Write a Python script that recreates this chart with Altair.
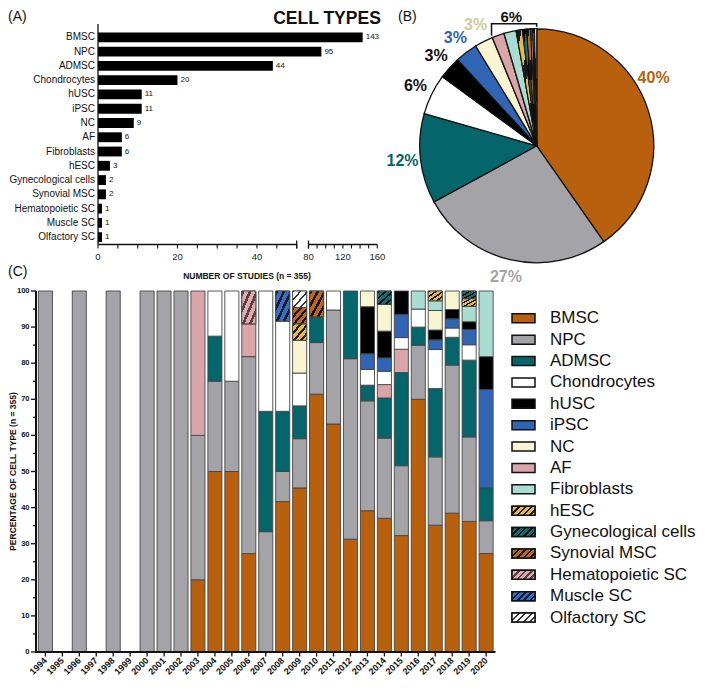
import math
import altair as alt
import pandas as pd

F = "Liberation Sans, Arial, Helvetica, sans-serif"

# ---------------- data ----------------
cell_types = ["BMSC", "NPC", "ADMSC", "Chondrocytes", "hUSC", "iPSC", "NC", "AF",
              "Fibroblasts", "hESC", "Gynecological cells", "Synovial MSC",
              "Hematopoietic SC", "Muscle SC", "Olfactory SC"]
study_counts = [143, 95, 44, 20, 11, 11, 9, 6, 6, 3, 2, 2, 1, 1, 1]

years = ["1994", "1995", "1996", "1997", "1998", "1999", "2000", "2001", "2002",
         "2003", "2004", "2005", "2006", "2007", "2008", "2009", "2010", "2011",
         "2012", "2013", "2014", "2015", "2016", "2017", "2018", "2019", "2020"]

bmsc_by_year = [0, 0, 0, 0, 0, 0, 0, 0, 0, 1, 4, 2, 3, 0, 5, 10, 10, 12, 5, 9, 10, 10, 14, 13, 15, 17, 3]
npc_by_year = [1, 0, 1, 0, 1, 0, 1, 1, 1, 2, 2, 1, 6, 1, 1, 3, 2, 6, 8, 7, 6, 6, 3, 7, 16, 11, 1]
admsc_by_year = [0, 0, 0, 0, 0, 0, 0, 0, 0, 0, 1, 0, 0, 1, 2, 2, 1, 0, 3, 1, 3, 8, 1, 7, 3, 10, 1]
chondro_by_year = [0, 0, 0, 0, 0, 0, 0, 0, 0, 0, 1, 1, 0, 1, 3, 2, 0, 1, 0, 1, 1, 1, 1, 4, 1, 2, 0]
husc_by_year = [0, 0, 0, 0, 0, 0, 0, 0, 0, 0, 0, 0, 0, 0, 0, 0, 0, 0, 0, 3, 2, 2, 0, 1, 1, 1, 1]
ipsc_by_year = [0, 0, 0, 0, 0, 0, 0, 0, 0, 0, 0, 0, 0, 0, 0, 0, 0, 0, 0, 1, 1, 2, 0, 1, 1, 2, 3]
nc_by_year = [0, 0, 0, 0, 0, 0, 0, 0, 0, 0, 0, 0, 0, 0, 0, 2, 0, 0, 0, 1, 2, 0, 0, 2, 2, 0, 0]
af_by_year = [0, 0, 0, 0, 0, 0, 0, 0, 0, 2, 0, 0, 1, 0, 0, 0, 0, 0, 0, 0, 1, 2, 0, 0, 0, 0, 0]
fibro_by_year = [0, 0, 0, 0, 0, 0, 0, 0, 0, 0, 0, 0, 0, 0, 0, 0, 0, 0, 0, 0, 0, 0, 1, 1, 0, 2, 2]
hesc_by_year = [0, 0, 0, 0, 0, 0, 0, 0, 0, 0, 0, 0, 0, 0, 0, 1, 0, 0, 0, 0, 0, 0, 0, 1, 0, 1, 0]
gyn_by_year = [0, 0, 0, 0, 0, 0, 0, 0, 0, 0, 0, 0, 0, 0, 0, 0, 0, 0, 0, 0, 1, 0, 0, 0, 0, 1, 0]
synovial_by_year = [0, 0, 0, 0, 0, 0, 0, 0, 0, 0, 0, 0, 0, 0, 0, 1, 1, 0, 0, 0, 0, 0, 0, 0, 0, 0, 0]
hemato_by_year = [0, 0, 0, 0, 0, 0, 0, 0, 0, 0, 0, 0, 1, 0, 0, 0, 0, 0, 0, 0, 0, 0, 0, 0, 0, 0, 0]
muscle_by_year = [0, 0, 0, 0, 0, 0, 0, 0, 0, 0, 0, 0, 0, 0, 1, 0, 0, 0, 0, 0, 0, 0, 0, 0, 0, 0, 0]
olfactory_by_year = [0, 0, 0, 0, 0, 0, 0, 0, 0, 0, 0, 0, 0, 0, 0, 1, 0, 0, 0, 0, 0, 0, 0, 0, 0, 0, 0]

# tick values / labels
a_tick_labels = [0, 20, 40, 80, 120, 160]
a_ticks = [0, 5, 10, 15, 20, 25, 30, 35, 40, 45, 50, 80, 90, 100, 110, 120, 130, 140, 150, 160]
a_break_lo = [0, 80]
a_break_hi = [50, 160]
c_tick_labels = [0, 10, 20, 30, 40, 50, 60, 70, 80, 90, 100]
c_minor_ticks = [5, 15, 25, 35, 45, 55, 65, 75, 85, 95]

# stacking order of panel C (bottom -> top)
stack_order = ["BMSC", "NPC", "ADMSC", "AF", "Chondrocytes", "iPSC", "hUSC", "NC",
               "Fibroblasts", "hESC", "Gynecological cells", "Synovial MSC",
               "Hematopoietic SC", "Muscle SC", "Olfactory SC"]
per_year = {
    "BMSC": bmsc_by_year, "NPC": npc_by_year, "ADMSC": admsc_by_year,
    "Chondrocytes": chondro_by_year, "hUSC": husc_by_year, "iPSC": ipsc_by_year,
    "NC": nc_by_year, "AF": af_by_year, "Fibroblasts": fibro_by_year,
    "hESC": hesc_by_year, "Gynecological cells": gyn_by_year,
    "Synovial MSC": synovial_by_year, "Hematopoietic SC": hemato_by_year,
    "Muscle SC": muscle_by_year, "Olfactory SC": olfactory_by_year,
}

# ---------------- styles ----------------
fill_colors = ["#B9600E", "#A4A4A8", "#04666A", "#FFFFFF", "#000000", "#3065B5",
               "#F8F5D0", "#D9A5A9", "#A9DDD2", "#E8B84A", "#04666A", "#B9600E",
               "#D9A5A9", "#3065B5", "#FFFFFF"]
hatched = {
    "hESC": ("#E8B84A", "#1a1a1a", 0.4),
    "Gynecological cells": ("#0A7276", "#0b0b0b", 0.4),
    "Synovial MSC": ("#C0661A", "#141414", 0.4),
    "Hematopoietic SC": ("#DDAAAE", "#5c3f41", 0.4),
    "Muscle SC": ("#3A6FC0", "#0f1a33", 0.4),
    "Olfactory SC": ("#FFFFFF", "#333333", 0.28),
}
label_colors = ["#B9600E", "#A4A4A8", "#04666A", "#111111", "#111111", "#3065B5",
                "#CFCB9E"]
INK = "#111111"


def hatch(base, stripe, w, n=5, x2=1.0, y2=1.0):
    stops = []
    for i in range(n):
        a, b, c = i / n, (i + w) / n, (i + 1) / n
        stops += [alt.GradientStop(color=stripe, offset=a),
                  alt.GradientStop(color=stripe, offset=b),
                  alt.GradientStop(color=base, offset=b),
                  alt.GradientStop(color=base, offset=c)]
    return alt.LinearGradient(gradient="linear", stops=stops, x1=0, y1=0, x2=x2, y2=y2)


W, H = 692, 670
total = sum(study_counts)
fill_scale = alt.Scale(domain=cell_types, range=fill_colors)
one = pd.DataFrame({"k": [0]})

# ---------------- panel A ----------------
dfA = pd.DataFrame({"type": cell_types, "n": study_counts})
A_X0 = 90
A_Y0, A_Y1 = 22, 236.5
xA_scale = alt.Scale(domain=[a_break_lo[0], a_break_hi[0], a_break_lo[1], a_break_hi[1]],
                     range=[A_X0, 288.7, 300.5, 369.3])
yA_scale = alt.Scale(domain=cell_types, range=[A_Y0, A_Y1], paddingInner=0.31, paddingOuter=0.17)

barsA = alt.Chart(dfA).mark_bar(color="#000000").encode(
    x=alt.X("n:Q", scale=xA_scale, axis=None),
    y=alt.Y("type:N", scale=yA_scale, axis=None))
valuesA = alt.Chart(dfA).mark_text(align="left", baseline="middle", dx=3, font=F,
                                   fontSize=8, color=INK).encode(
    x=alt.X("n:Q", axis=None), y=alt.Y("type:N", axis=None), text="n:Q")
ylabA = alt.Chart(dfA).mark_text(align="right", baseline="middle", font=F, fontSize=10,
                                 color=INK).encode(
    x=alt.value(A_X0 - 3), y=alt.Y("type:N", axis=None), text="type:N")
ydomA = alt.Chart(one).mark_rule(color=INK, strokeWidth=1.3).encode(
    x=alt.value(A_X0), y=alt.value(16), y2=alt.value(A_Y1))
xdomA = alt.Chart(pd.DataFrame({"lo": a_break_lo, "hi": a_break_hi})).mark_rule(
    color=INK, strokeWidth=1.3).encode(
    x=alt.X("lo:Q", axis=None), x2="hi:Q", y=alt.value(A_Y1))
xtickA = alt.Chart(pd.DataFrame({"v": a_ticks})).mark_rule(color=INK, strokeWidth=1.1).encode(
    x=alt.X("v:Q", axis=None), y=alt.value(A_Y1), y2=alt.value(A_Y1 + 4))
xcapA = alt.Chart(pd.DataFrame({"v": [a_break_hi[0], a_break_lo[1]]})).mark_rule(
    color=INK, strokeWidth=1.3).encode(
    x=alt.X("v:Q", axis=None), y=alt.value(A_Y1 - 4), y2=alt.value(A_Y1 + 4))
xlabA = alt.Chart(pd.DataFrame({"v": a_tick_labels})).mark_text(
    baseline="top", font=F, fontSize=9.5, color="#222").encode(
    x=alt.X("v:Q", axis=None), y=alt.value(A_Y1 + 7), text="v:Q")
panelA = alt.layer(barsA, valuesA, ylabA, ydomA, xdomA, xtickA, xcapA, xlabA)

# ---------------- panel B (pie) ----------------
PX, PY, PR = 528.7, 137.8, 117
cum = [0]
for v in study_counts:
    cum.append(cum[-1] + v)
dfP = pd.DataFrame({"type": cell_types, "n": study_counts, "s": cum[:-1], "e": cum[1:]})
theta_scale = alt.Scale(domain=[0, total])

arcs = alt.Chart(dfP).mark_arc(outerRadius=PR, stroke=INK, strokeWidth=1.3).encode(
    theta=alt.Theta("s:Q", scale=theta_scale, stack=False), theta2="e:Q",
    fill=alt.Fill("type:N", scale=fill_scale, legend=None),
    x=alt.value(PX), y=alt.value(PY))
pie_layers = [arcs]
for t, (base, stripe, w) in hatched.items():
    pie_layers.append(
        alt.Chart(dfP).transform_filter(alt.datum.type == t).mark_arc(
            outerRadius=PR, fill=hatch(base, stripe, w, n=3), stroke=INK, strokeWidth=1.0
        ).encode(theta=alt.Theta("s:Q", stack=False), theta2="e:Q",
                 x=alt.value(PX), y=alt.value(PY)))

# labelled slices, and the small slices grouped under one bracket label
n_lab = 7
groups = cell_types[:n_lab]
dfL = pd.DataFrame({"g": groups, "n": study_counts[:n_lab], "s": cum[:n_lab]})
dfL["lt"] = dfL["s"] + (dfL["n"] / 2).clip(upper=total / 6)
dfL["txt"] = [f"{round(v / total * 100)}%" for v in study_counts[:n_lab]]
pie_labels = alt.Chart(dfL).mark_text(radius=135, font=F, fontSize=16, fontWeight="bold").encode(
    theta=alt.Theta("lt:Q", stack=False), text="txt:N",
    color=alt.Color("g:N", scale=alt.Scale(domain=groups, range=label_colors), legend=None),
    x=alt.value(PX), y=alt.value(PY))
pie_layers.append(pie_labels)

others_n = sum(study_counts[n_lab:])
dfO = pd.DataFrame({"lt": [cum[n_lab] + others_n / 2],
                    "txt": [f"{round(others_n / total * 100)}%"]})
pie_layers.append(alt.Chart(dfO).mark_text(radius=131, font=F, fontSize=15, fontWeight="bold",
                                           color=INK).encode(
    theta=alt.Theta("lt:Q", stack=False), text="txt:N", x=alt.value(PX), y=alt.value(PY)))

# bracket over the small slices
a0 = cum[n_lab] / total * 2 * math.pi
a1 = 2 * math.pi
RL, RT = PR + 2, PR + 5
bx0, by0 = PX + RL * math.sin(a0), PY - RL * math.cos(a0)
bx1, by1 = PX + RL * math.sin(a1), PY - RL * math.cos(a1)
ytop = PY - RT
dfB = pd.DataFrame({"i": [0, 1, 2, 3], "bx": [bx0, bx0, bx1, bx1], "by": [by0, ytop, ytop, by1]})
bracket = alt.Chart(dfB).mark_line(color=INK, strokeWidth=1.5).encode(
    x=alt.X("bx:Q", scale=None, axis=None), y=alt.Y("by:Q", scale=None, axis=None), order="i:Q")
pie_layers.append(bracket)
panelB = alt.layer(*pie_layers)

# ---------------- panel C ----------------
rows = []
for yi, yr in enumerate(years):
    tot = sum(per_year[t][yi] for t in stack_order)
    c0 = 0
    for t in stack_order:
        v = per_year[t][yi]
        if v > 0:
            rows.append({"year": yr, "type": t, "p0": c0 / tot * 100, "p1": (c0 + v) / tot * 100})
            c0 += v
dfC = pd.DataFrame(rows)

C_X0, C_X1 = 28, 487.5
C_TOP, C_BOT = 283, 644
xC_scale = alt.Scale(domain=years, range=[C_X0, C_X1], paddingInner=0.17, paddingOuter=0.14)
yC_scale = alt.Scale(domain=[0, 100], range=[C_BOT, C_TOP])
barsC = alt.Chart(dfC).mark_bar(stroke="#454545", strokeWidth=0.9).encode(
    x=alt.X("year:N", scale=xC_scale, axis=None),
    y=alt.Y("p0:Q", scale=yC_scale, axis=None), y2="p1:Q",
    fill=alt.Fill("type:N", scale=fill_scale, legend=None))
c_layers = [barsC]
for t, (base, stripe, w) in hatched.items():
    c_layers.append(
        alt.Chart(dfC).transform_filter(alt.datum.type == t).mark_bar(
            fill=hatch(base, stripe, w, n=4), stroke="#454545", strokeWidth=0.9
        ).encode(x=alt.X("year:N", axis=None), y=alt.Y("p0:Q", axis=None), y2="p1:Q"))

dfYears = pd.DataFrame({"year": years})
c_layers += [
    alt.Chart(one).mark_rule(color=INK, strokeWidth=2).encode(
        x=alt.value(C_X0), y=alt.value(C_TOP), y2=alt.value(C_BOT + 1)),
    alt.Chart(one).mark_rule(color=INK, strokeWidth=2).encode(
        x=alt.value(C_X0 - 1), x2=alt.value(C_X1), y=alt.value(C_BOT)),
    alt.Chart(pd.DataFrame({"v": c_tick_labels})).mark_rule(color=INK, strokeWidth=1.3).encode(
        y=alt.Y("v:Q", axis=None), x=alt.value(C_X0 - 5), x2=alt.value(C_X0)),
    alt.Chart(pd.DataFrame({"v": c_minor_ticks})).mark_rule(color=INK, strokeWidth=1.3).encode(
        y=alt.Y("v:Q", axis=None), x=alt.value(C_X0 - 3), x2=alt.value(C_X0)),
    alt.Chart(pd.DataFrame({"v": c_tick_labels})).mark_text(
        align="right", baseline="middle", font=F, fontSize=7.5, fontWeight="bold", color=INK
    ).encode(y=alt.Y("v:Q", axis=None), x=alt.value(C_X0 - 6.5), text="v:Q"),
    alt.Chart(dfYears).mark_rule(color=INK, strokeWidth=1.3).encode(
        x=alt.X("year:N", axis=None), y=alt.value(C_BOT), y2=alt.value(C_BOT + 4.5)),
    alt.Chart(dfYears).mark_text(
        align="right", baseline="middle", angle=315, font=F, fontSize=9, fontWeight="bold",
        color=INK).encode(x=alt.X("year:N", axis=None), y=alt.value(C_BOT + 7), text="year:N"),
]
panelC = alt.layer(*c_layers)

# ---------------- legend ----------------
yL_scale = alt.Scale(domain=cell_types, range=[305.8, 614.1], paddingInner=0.579, paddingOuter=0)
leg_layers = [alt.Chart(dfA).mark_bar(stroke=INK, strokeWidth=1.5).encode(
    x=alt.value(504), x2=alt.value(527),
    y=alt.Y("type:N", scale=yL_scale, axis=None),
    fill=alt.Fill("type:N", scale=fill_scale, legend=None))]
for t, (base, stripe, w) in hatched.items():
    leg_layers.append(
        alt.Chart(dfA).transform_filter(alt.datum.type == t).mark_bar(
            fill=hatch(base, stripe, w, n=5, x2=1.207, y2=0.472), stroke=INK, strokeWidth=1.5
        ).encode(x=alt.value(504), x2=alt.value(527), y=alt.Y("type:N", axis=None)))
leg_layers.append(alt.Chart(dfA).mark_text(align="left", baseline="middle", font=F, fontSize=17,
                                           color=INK).encode(
    x=alt.value(542), y=alt.Y("type:N", axis=None), text="type:N"))
panelLeg = alt.layer(*leg_layers)


# ---------------- annotations ----------------
def ann(txt, x, y, size, weight="normal", align="left", baseline="middle", angle=0):
    return alt.Chart(pd.DataFrame({"t": [txt]})).mark_text(
        font=F, fontSize=size, fontWeight=weight, align=align, baseline=baseline,
        angle=angle, color=INK
    ).encode(text="t:N", x=alt.value(x), y=alt.value(y))


panel_tags = ["(A)", "(B)", "(C)"]
annots = alt.layer(
    ann(panel_tags[0], 0, 9, 14),
    ann(panel_tags[1], 390, 9, 14),
    ann(panel_tags[2], 0, 264, 14),
    ann("CELL TYPES", 319, 11, 17.5, "bold", "center", "middle"),
    ann("NUMBER OF STUDIES (n = 355)", 239, 268, 8.5, "bold", "center"),
    ann("PERCENTAGE OF CELL TYPE (n = 355)", 5, (C_TOP + C_BOT) / 2, 8.5, "bold", "center",
        "middle", 270),
)

chart = alt.layer(panelA, panelB, panelC, panelLeg, annots).resolve_scale(
    x="independent", y="independent"
).properties(
    width=W, height=H, autosize=alt.AutoSizeParams(type="none"), padding=0
).configure_view(stroke="transparent")

chart.save("out.html", embed_options={"renderer": "svg", "actions": False})
